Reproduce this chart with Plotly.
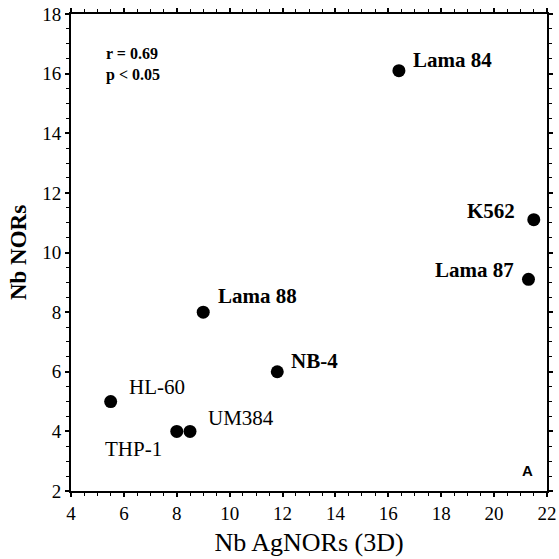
import plotly.graph_objects as go

names = ["Lama 84", "K562", "Lama 87", "Lama 88", "NB-4", "HL-60", "UM384", "THP-1"]
agnors = [16.4, 21.5, 21.3, 9.0, 11.8, 5.5, 8.5, 8.0]
nors = [16.1, 11.1, 9.1, 8.0, 6.0, 5.0, 4.0, 4.0]
bold = [True, True, True, True, True, False, False, False]
# label offsets (px): xanchor, xshift, yshift
label_style = {
    "Lama 84": ("left", 12, 11),
    "K562": ("right", -17, 9),
    "Lama 87": ("right", -12, 9),
    "Lama 88": ("left", 13, 16),
    "NB-4": ("left", 12, 11),
    "HL-60": ("left", 16, 15),
    "UM384": ("left", 16, 13),
    "THP-1": ("right", -13, -18),
}

SERIF = "Liberation Serif"

fig = go.Figure()
fig.add_trace(go.Scatter(
    x=agnors, y=nors, mode="markers",
    marker=dict(color="black", size=13),
    showlegend=False,
))

annotations = []
for n, xv, yv, b in zip(names, agnors, nors, bold):
    xa, xs, ys = label_style[n]
    annotations.append(dict(
        x=xv, y=yv, xref="x", yref="y", text=f"<b>{n}</b>" if b else n,
        showarrow=False, xanchor=xa, yanchor="middle", xshift=xs, yshift=ys,
        font=dict(family=SERIF, size=21, color="black"),
    ))

annotations.append(dict(
    x=0.07, y=0.94, xref="paper", yref="paper",
    text="<b>r = 0.69</b><br><b>p &lt; 0.05</b>", align="left",
    showarrow=False, xanchor="left", yanchor="top",
    font=dict(family=SERIF, size=16, color="black"),
))
annotations.append(dict(
    x=0.96, y=0.02, xref="paper", yref="paper", text="<b>A</b>",
    showarrow=False, xanchor="center", yanchor="bottom",
    font=dict(family="Liberation Sans", size=15, color="black"),
))

axis_common = dict(
    showgrid=False, zeroline=False, showline=True, linecolor="black", linewidth=2,
    mirror="ticks", ticks="outside", ticklen=4, tickwidth=1.5, tickcolor="black",
    tickfont=dict(family=SERIF, size=19, color="black"),
    minor=dict(ticks="outside", ticklen=3, tickwidth=1, tickcolor="black", dtick=0.5),
    automargin=False,
)

fig.update_layout(
    width=559, height=559,
    margin=dict(l=71, r=12, t=14, b=68),
    paper_bgcolor="white", plot_bgcolor="white",
    xaxis=dict(range=[4, 22], dtick=2, tick0=4,
               title=dict(text="Nb AgNORs (3D)", font=dict(family=SERIF, size=26, color="black"), standoff=10),
               **axis_common),
    yaxis=dict(range=[2, 18], dtick=2, tick0=2,
               title=dict(text="<b>Nb NORs</b>", font=dict(family=SERIF, size=23, color="black"), standoff=9),
               **axis_common),
    annotations=annotations,
)

fig.write_html("out.html")
